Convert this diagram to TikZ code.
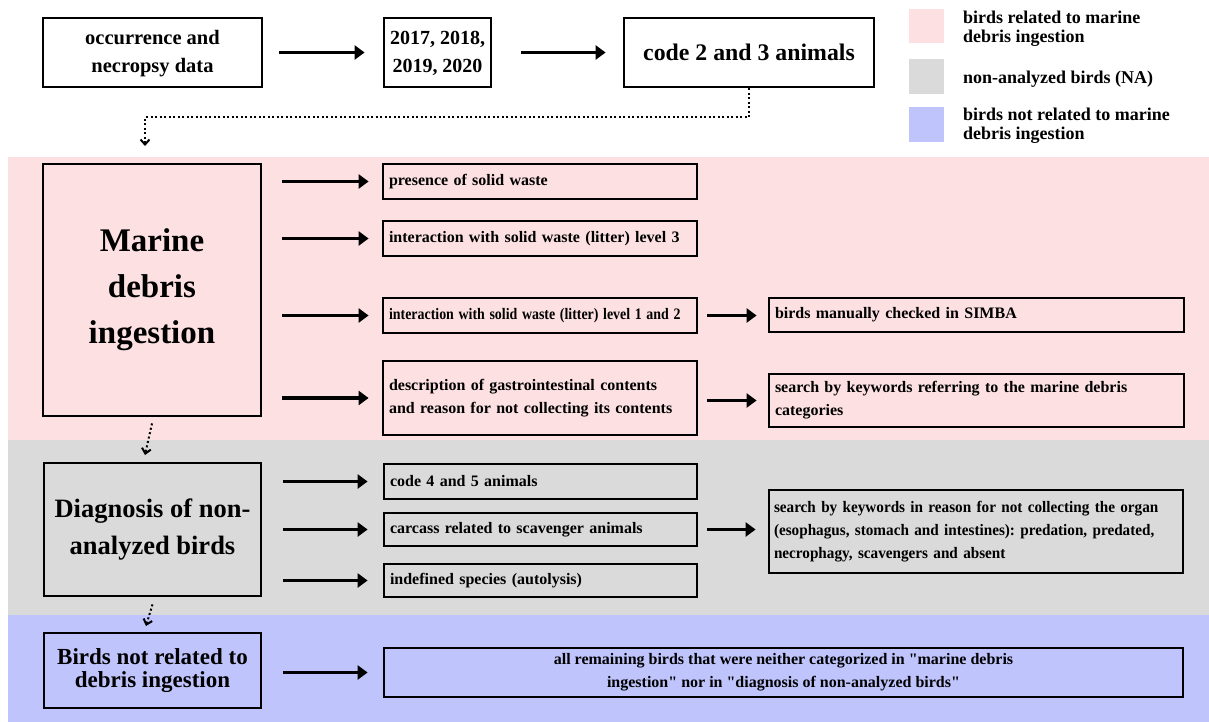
\documentclass[tikz,border=0pt]{standalone}
\usepackage{fontspec}
\setmainfont{Liberation Serif}[Ligatures=TeXOff]
\newfontfamily\condf{Liberation Serif}[Ligatures=TeXOff,FakeStretch=0.95]
\usetikzlibrary{arrows.meta}
\definecolor{bpink}{RGB}{253,225,226}
\definecolor{bgrey}{RGB}{218,218,218}
\definecolor{bblue}{RGB}{192,196,252}
\frenchspacing
\begin{document}
\begin{tikzpicture}[x=1pt,y=-1pt,
  box/.style={draw, line width=2.8pt, inner xsep=6pt, inner ysep=0pt, font=\bfseries, align=center},
  lbox/.style={box, align=left},
  arr/.style={line width=3.5pt, -{Triangle[length=10pt,width=14pt]}},
  dotarr/.style={line width=2pt, dash pattern=on 2pt off 2.5pt, -{Straight Barb[length=5pt,width=9pt,line width=2pt]}},
  small/.style={font=\bfseries\fontsize{16}{23}\selectfont},
  legtxt/.style={anchor=west, inner sep=0pt, align=left, font=\bfseries\fontsize{18}{19}\selectfont}
]
\useasboundingbox (0,0) rectangle (1209,722);
% bands
\fill[bpink] (8,157) rectangle (1209,440);
\fill[bgrey] (8,440) rectangle (1209,615);
\fill[bblue] (8,615) rectangle (1209,722);
% legend
\fill[bpink] (909,9) rectangle (944,43);
\fill[bgrey] (909,59) rectangle (944,94);
\fill[bblue] (909,107) rectangle (944,142);
\node[legtxt] (l1) at (963,29) {birds related to marine\\debris ingestion};
\node[legtxt] (l2) at (963,79) {non-analyzed birds (NA)};
\node[legtxt] (l3) at (963,126) {birds not related to marine\\debris ingestion};
% top row
\node[box, minimum width=219pt, minimum height=69pt, font=\bfseries\fontsize{20.5}{28}\selectfont] (n1) at (152.5,52.5) {\raisebox{-4pt}{\begin{tabular}{@{}c@{}}occurrence and\\necropsy data\end{tabular}}};
\node[box, minimum width=107pt, minimum height=69pt, inner xsep=2pt, font=\bfseries\fontsize{20}{28}\selectfont] (n2) at (437.5,52.5) {\raisebox{-4pt}{\begin{tabular}{@{}c@{}}2017, 2018,\\2019, 2020\end{tabular}}};
\node[box, minimum width=250pt, minimum height=69pt, font=\bfseries\fontsize{23.8}{28}\selectfont] (n3) at (749,52.5) {\raisebox{-3pt}{code 2 and 3 animals}};
\draw[arr, shorten <=16pt, shorten >=18pt] (n1) -- (n2);
\draw[arr, shorten <=29pt, shorten >=17pt] (n2) -- (n3);
% marine section
\node[box, minimum width=218pt, minimum height=252pt, font=\bfseries\fontsize{33}{46}\selectfont] (m) at (152,290) {Marine\\debris\\ingestion};
\coordinate (c1) at (145,146);
\draw[dotarr] (n3.south) -- ++(0,29) -| (c1);
\node[lbox, small, text width=302pt, minimum height=35pt] (p1) at (540,181.5) {presence of solid waste};
\node[lbox, small, text width=302pt, minimum height=35pt] (p2) at (540,238.5) {interaction with solid waste (litter) level 3};
\node[lbox, small, text width=302pt, minimum height=35pt] (p3) at (540,315.5) {\scalebox{0.87}[1]{interaction with solid waste (litter) level 1 and 2}};
\node[lbox, small, text width=302pt, minimum height=74pt] (p4) at (540,398) {description of gastrointestinal contents\\and reason for not collecting its contents};
\foreach \p in {p1,p2,p3,p4}{
  \draw[arr, shorten <=20pt, shorten >=13pt] (m.east |- \p) -- (\p);
}
\node[lbox, small, text width=403pt, minimum height=34pt] (s1) at (976.5,315) {birds manually checked in SIMBA};
\node[lbox, small, text width=403pt, minimum height=53pt] (s2) at (976.5,400.5) {search by keywords referring to the marine debris\\categories};
\draw[arr, shorten <=9pt, shorten >=11pt] (p3.east) -- (s1.west |- p3.east);
\draw[arr, shorten <=9pt, shorten >=11pt] (p4.east |- s2.west) -- (s2.west);
% grey section
\node[box, minimum width=217pt, minimum height=133pt, font=\bfseries\fontsize{26.5}{37}\selectfont] (d) at (152.5,529.5) {Diagnosis of non-\\analyzed birds};
\coordinate (c2) at (145,455);
\draw[dotarr] (m.south) ++(0,6) coordinate (m2) (m2) -- (c2);
\node[lbox, small, text width=301pt, minimum height=35pt] (g1) at (540.5,481.5) {code 4 and 5 animals};
\node[lbox, small, text width=301pt, minimum height=33pt] (g2) at (540.5,529.5) {carcass related to scavenger animals};
\node[lbox, small, text width=301pt, minimum height=33pt] (g3) at (540.5,580.5) {indefined species (autolysis)};
\draw[arr, shorten <=21pt, shorten >=15pt] (d.east |- g1) -- (g1);
\draw[arr, shorten <=21pt, shorten >=15pt] (d.east |- g2) -- (g2);
\draw[arr, shorten <=21pt, shorten >=15pt] (d.east |- g3) -- (g3);
\node[lbox, text width=404pt, minimum height=83pt, inner xsep=5pt, font=\condf\bfseries\fontsize{16}{23}\selectfont] (g4) at (976,531.5) {\raisebox{-3pt}{\parbox{404pt}{search by keywords in reason for not collecting the organ\\(esophagus, stomach and intestines): predation, predated,\\necrophagy, scavengers and absent}}};
\draw[arr, shorten <=9pt, shorten >=12pt] (g2.east) -- (g4.west |- g2.east);
% blue section
\node[box, minimum width=217pt, minimum height=75pt, font=\bfseries\fontsize{23}{23.5}\selectfont] (b) at (152.5,670.5) {Birds not related to\\debris ingestion};
\coordinate (c3) at (146,626);
\draw[dotarr] (d.south) ++(0,7) coordinate (d2) (d2) -- (c3);
\node[box, small, minimum width=799pt, minimum height=49pt] (b2) at (783.5,672.5) {all remaining birds that were neither categorized in "marine debris\\ingestion" nor in "diagnosis of non-analyzed birds"};
\draw[arr, shorten <=21pt, shorten >=15pt] (b.east |- b2) -- (b2);
\end{tikzpicture}
\end{document}
